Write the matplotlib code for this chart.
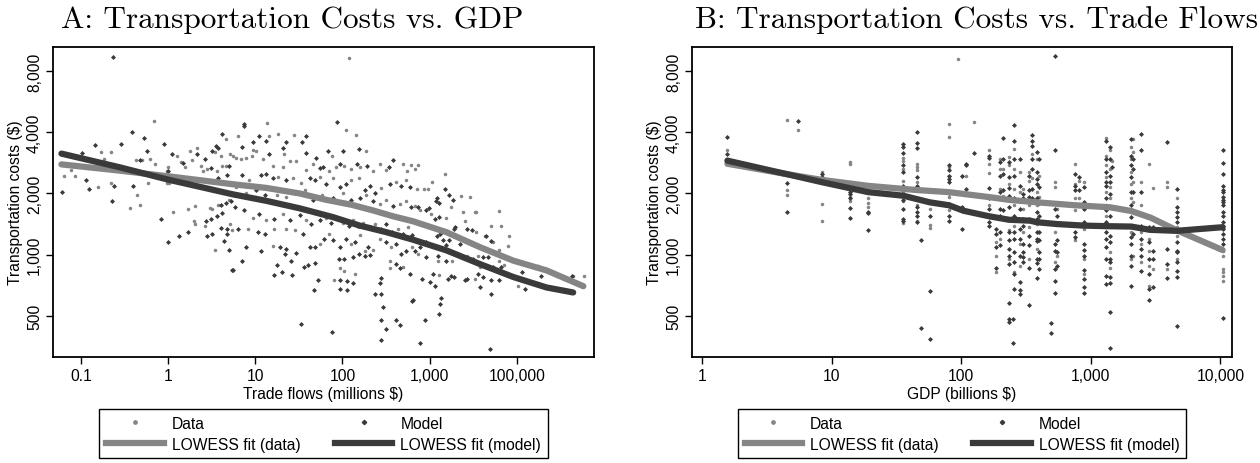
import matplotlib.pyplot as plt
from matplotlib.lines import Line2D
from matplotlib.ticker import NullLocator

plt.rcParams['font.family'] = ['Liberation Sans', 'DejaVu Sans']

# Panel A: transportation cost ($) vs trade flows (millions $)
trade_data = [
    (0.69, 4550), (0.172, 3190), (0.224, 3190), (0.186, 2970), (0.43, 2910), (0.50, 2910),
    (0.62, 2960), (0.71, 2780), (1.26, 3050), (1.40, 2870), (1.58, 2690), (1.0, 2700),
    (0.98, 2590), (0.97, 2250), (1.8, 3240), (2.13, 3360), (1.9, 2910), (4.67, 3700),
    (3.49, 3190), (4.1, 3050), (5.2, 3110), (2.4, 2720), (2.83, 2650), (2.55, 2590),
    (3.66, 2590), (4.17, 2720), (4.6, 2720), (0.064, 2450), (0.077, 2600), (0.085, 2440),
    (0.158, 2150), (0.224, 2250), (0.585, 2250), (0.445, 1960), (0.48, 1760), (0.37, 1690),
    (1.02, 2250), (1.15, 1630), (1.68, 1680), (2.06, 1740), (1.99, 1470), (2.03, 1410),
    (2.66, 1390), (3.0, 1700), (3.2, 1670), (3.7, 1750), (5.0, 1850), (5.4, 1320),
    (5.2, 1410), (3.43, 1050),
    (118, 9230), (110, 4110), (145, 3860), (13.5, 4450), (6.4, 3820), (14.5, 3850),
    (18.5, 3900), (27.5, 3880), (9.4, 3290), (10.3, 3240), (21.4, 3110), (75, 3050),
    (188, 3220), (5.6, 3050), (6.1, 2980), (6.9, 2950), (7.9, 2980), (9.3, 3050),
    (12.3, 2950), (16, 2740), (20.8, 2700), (25, 2880), (29.5, 2880), (38.6, 2610),
    (46, 2800), (71, 2590), (84, 2700), (105, 2740), (124, 2630), (158, 2700),
    (222, 2570), (268, 2790), (315, 2620), (500, 2790), (550, 2580), (610, 2760),
    (8.5, 2320), (18.3, 2410), (27.2, 2390), (33.6, 2250), (56, 2410), (78, 2370),
    (127, 2320), (155, 2390), (280, 2130), (415, 2280), (540, 2320), (6.1, 2150),
    (7.9, 2000), (17.6, 1960), (22.8, 1920), (37, 2080), (59, 1960), (102, 2000),
    (188, 1960), (268, 1780), (320, 1850), (453, 1780), (540, 1840), (9.4, 1520),
    (13.4, 1475), (21, 1590), (38.6, 1475), (65.6, 1520), (102, 1430), (133, 1475),
    (173, 1430), (235, 1420), (435, 1330), (560, 1365), (8.3, 1345), (16.6, 1330),
    (22.8, 1345), (28.4, 1320), (55, 1130), (71, 1265), (127, 1130), (158, 1250),
    (180, 1040), (225, 1050), (268, 1190), (365, 1090), (635, 1090), (15.8, 1100),
    (93, 860), (105, 830), (140, 800), (81, 755), (350, 935), (355, 860), (500, 870),
    (730, 2750), (680, 2650), (1520, 2500), (1060, 2290), (870, 2100), (955, 2110),
    (720, 2110), (2320, 1950), (2940, 1920), (1740, 1715), (2440, 1630), (3280, 1630),
    (3450, 1630), (6230, 1640), (680, 1740), (770, 1650), (1040, 1580), (1560, 1510),
    (2550, 1460), (3400, 1290), (4300, 1240), (5100, 1380), (6650, 1380), (5360, 1160),
    (8200, 1230), (8000, 1100), (6300, 1050), (740, 1010), (1240, 935), (1830, 935),
    (2650, 990), (3600, 990), (6300, 935), (7070, 885), (3760, 870), (3340, 760),
    (1270, 795), (10400, 700), (17700, 880), (59000, 785), (44000, 790),
]
trade_model = [
    (0.234, 9400), (0.383, 4000), (0.53, 3740), (0.144, 3480), (0.29, 3500), (0.89, 3500),
    (0.104, 3150), (0.57, 3240), (0.48, 2910), (1.12, 3140), (1.49, 2830), (1.0, 2590),
    (2.13, 3140), (2.63, 2970), (3.17, 3230), (3.59, 3440), (3.74, 3350), (4.17, 3940),
    (3.1, 2660), (5.0, 2720), (4.75, 2470), (3.7, 2380), (0.114, 2320), (0.124, 2100),
    (0.061, 2030), (0.24, 2170), (0.40, 2180), (0.23, 1830), (0.84, 1500), (1.0, 1160),
    (1.34, 1240), (1.7, 1300), (2.75, 1460), (3.1, 1500), (3.6, 1550), (4.2, 1600),
    (4.1, 1750), (4.6, 1800), (5.3, 1830), (2.8, 1230), (3.2, 1270), (4.1, 1350),
    (4.7, 1330), (4.7, 1265), (4.35, 1170), (5.0, 1060), (5.4, 840),
    (86, 4500), (7.5, 4400), (7.5, 4300), (9.5, 3600), (11.2, 3820), (13.4, 3620),
    (22.4, 3600), (34, 3600), (38.6, 3820), (7.0, 3380), (14.5, 3140), (20.8, 3330),
    (38, 3150), (50, 3000), (69, 3220), (102, 3250), (155, 3300), (56, 2660), (60, 2700),
    (94, 2800), (147, 2800), (190, 2720), (340, 2700), (380, 2930), (7.1, 2470),
    (11.7, 2470), (13.4, 2500), (15.8, 2390), (22.8, 2320), (42, 2370), (48, 2320),
    (65.6, 2230), (93, 2150), (111, 2230), (180, 2080), (205, 2170), (235, 2000),
    (350, 2230), (470, 2170), (590, 2150), (10.3, 2080), (12.8, 1960), (28.4, 2000),
    (46, 1850), (78, 1890), (127, 1850), (158, 1890), (225, 1840), (380, 1730),
    (615, 1720), (5.8, 1715), (7.5, 1650), (11.2, 1590), (16.6, 1500), (25, 1475),
    (32.4, 1560), (44, 1420), (55, 1480), (74, 1430), (84, 1520), (118, 1390),
    (152, 1390), (205, 1365), (280, 1345), (320, 1410), (375, 1290), (500, 1260),
    (635, 1250), (6.4, 1330), (10.8, 1290), (13, 1265), (35.5, 1265), (42, 1090),
    (48, 1090), (62, 1190), (78, 1175), (93, 1090), (111, 1190), (140, 1160), (196, 1090),
    (320, 1160), (415, 1130), (475, 1010), (540, 1040), (19.1, 1090), (21.7, 1010),
    (22.8, 1070), (7.9, 1090), (7.1, 935), (11.7, 1040), (29.6, 1020), (26, 935),
    (36.3, 870), (40.5, 885), (48, 910), (26.5, 795), (17.6, 885), (16.4, 795),
    (20.5, 820), (91, 950), (105, 955), (133, 970), (155, 1010), (180, 990), (210, 1000),
    (53, 755), (93, 747), (113, 740), (133, 725), (47, 670), (94, 675), (113, 670),
    (275, 765), (268, 725), (415, 900), (453, 860), (590, 805), (235, 640), (275, 640),
    (295, 555), (275, 480), (410, 475), (453, 450), (320, 430), (275, 380), (630, 590),
    (33.6, 455), (76, 415), (5.6, 840),
    (1520, 2110), (1690, 1960), (1860, 1850), (1220, 1890), (1270, 1790), (1180, 1840),
    (980, 1700), (900, 1650), (740, 1710), (1290, 1540), (1140, 1500), (1970, 1365),
    (1890, 1340), (2650, 1340), (3100, 1320), (4490, 1240), (5040, 1170), (1310, 1265),
    (1430, 1175), (1560, 1110), (1690, 1175), (2220, 1130), (1200, 1230), (920, 1160),
    (770, 1090), (680, 1040), (920, 970), (1250, 990), (1560, 930), (2130, 1010),
    (3160, 950), (4130, 970), (4650, 975), (6650, 870), (5360, 870), (3600, 805),
    (4130, 775), (2650, 760), (2550, 755), (1930, 780), (1760, 790), (1100, 800),
    (810, 760), (1000, 730), (1160, 700), (1630, 760), (5040, 747), (6300, 747),
    (3760, 690), (5000, 640), (12300, 680), (11600, 820), (18900, 785), (42500, 785),
    (1360, 615), (1310, 570), (1270, 510), (880, 475), (770, 370), (4900, 345), (645, 596),
]
trade_lowess_data_x = [0.060, 0.279, 1.0, 5.56, 13.4, 32.4, 65.6, 127, 225, 380, 645,
                       1560, 3760, 9100, 21900, 58000]
trade_lowess_data_y = [2780, 2590, 2430, 2220, 2130, 2000, 1860, 1760, 1650, 1545, 1460,
                       1290, 1090, 935, 837, 700]
trade_lowess_model_x = [0.060, 0.279, 1.0, 5.56, 13.4, 32.4, 78, 158, 320, 645, 1560,
                        3760, 9100, 21900, 44300]
trade_lowess_model_y = [3140, 2690, 2340, 1980, 1840, 1690, 1530, 1390, 1290, 1185, 1050,
                        900, 777, 690, 652]

# Panel B: transportation cost ($) vs GDP (billions $), points stack at each country's GDP
gdp_levels = [1.57, 4.5, 5.5, 8.5, 13.8, 19.2, 35.7, 45.3, 49, 57, 80.5, 94, 101, 109, 126,
              164, 186, 199, 210, 234, 250, 257, 284, 302, 336, 350, 382, 401, 490, 530,
              546, 755, 811, 887, 1300, 1410, 1450, 2050, 2130, 2430, 2830, 3000, 3890,
              4590, 10400]
gdp_data_costs = [
    [3290, 2950, 2880], [4570, 2070, 1970], [4110], [2560, 1770, 1470],
    [2850, 2800, 1920, 1840], [1890, 1790, 1720],
    [2990, 2900, 2640, 2300, 2030, 1840, 1430], [2780, 2690, 2620, 2270, 1890, 1750, 1470],
    [], [1670, 1400, 1350], [4400, 3780, 2700, 2450, 1920, 1650], [9200], [2450], [2450],
    [4490], [3270, 2780, 2530, 1750, 1530], [1150, 990, 820], [2960, 2640, 2100, 1890, 1200],
    [2640, 1950], [3010, 2750, 2230, 1890, 1320, 950], [],
    [3310, 2640, 2100, 1750, 1390, 820], [880, 1130, 1500, 2030, 2550], [2100, 1680, 1290],
    [2550, 2300, 1750, 1365, 950], [3130, 2370], [2960, 2030, 1750, 1420, 1065],
    [2450, 1920], [], [2270, 2150, 1290, 916], [1680, 990], [2780, 2230, 1890, 1650, 1175],
    [2300, 1890], [2270, 1340, 950, 805], [3760, 3070, 2750, 2410, 2030, 1750, 1555, 1365],
    [3270, 2640, 2150, 1890, 1390, 1030, 860], [2900],
    [3380, 2960, 2550, 2230, 1890, 1650, 1290, 950], [3700, 3200, 2270, 1810, 990],
    [2270, 1750, 1290, 1130, 916], [2800, 1200, 1045, 880, 705], [2120, 850],
    [2270, 2150, 850], [1890, 1365, 1240, 950], [1045, 990, 850, 820, 790, 740],
]
gdp_model_costs = [
    [3780, 3130, 2900], [2250, 1630], [4520], [2500, 2410], [2040, 1990, 1890, 1700, 1520],
    [2180, 1630, 1600, 1320], [3500, 3380, 3170, 2750, 2550, 2170, 1860, 1680, 1500, 1460],
    [4000, 3540, 3330, 2410, 2180, 1720, 1630, 1545, 1440], [1175, 435], [1545, 665, 385],
    [2750, 2600, 2450, 2350, 2270, 2000, 1780, 1555, 1460], [], [2440, 1720, 1330],
    [2800, 2750, 2100], [3170], [3070, 2980, 2120, 1890, 1680, 1455, 1390],
    [1340, 1265, 1085, 860], [2850, 2450, 2030, 1680, 1555, 1290, 1110],
    [3750, 2960, 2500, 2070, 1650],
    [2850, 2410, 2120, 1950, 1720, 1500, 1290, 1175, 1065, 990, 900, 580, 482, 465],
    [370, 482], [4320, 3640, 2960, 2450, 1890, 1555, 1290, 1200, 1030, 916, 805, 680],
    [730, 670, 640, 990, 1200, 1340, 1680, 2180, 2960],
    [1990, 1890, 1500, 1390, 1130, 1030, 970, 916],
    [2450, 2070, 1920, 1500, 1240, 1110, 860, 565], [3860, 3640, 3420, 2960, 2640, 2100, 1890],
    [3200, 2550, 2350, 2230, 1890, 1620, 1500, 1290, 1200, 1165, 950, 910, 770],
    [2960, 2150, 1790, 1555, 1290, 1175, 1035, 950, 850], [460, 410],
    [9520, 3270, 1680, 1130, 1045, 850, 740, 645], [1555, 1175, 1035, 880],
    [2500, 2180, 2070, 1750, 1415, 1290, 1220], [2410, 2070],
    [2150, 1810, 1680, 1440, 1130, 1060, 990, 845, 760, 690, 645],
    [3640, 2960, 2550, 2270, 2180, 1890, 1650, 1440, 1290, 1200, 1085, 950, 790, 720],
    [3380, 2960, 2450, 2270, 1990, 1720, 1555, 1240, 1150, 950, 916, 775, 725, 520, 349],
    [2710], [3700, 3070, 2750, 2410, 2030, 1750, 1530, 1390, 1220, 1130, 990, 880, 705],
    [2960, 2640, 2030, 1620, 1265], [3920, 3290, 2030, 1580, 1390, 1200, 1065, 990, 835],
    [1365, 1150, 950, 800, 680, 600], [1365, 1045, 950, 690], [3600, 1065, 900, 765],
    [2100, 1720, 1620, 1530, 1440, 1310, 1150, 1045, 1030, 916, 835, 775, 447],
    [3290, 2830, 2500, 2180, 2070, 2030, 1920, 1860, 1810, 1750, 1620, 1555, 1440, 1390,
     1340, 1265, 1200, 1130, 490],
]
gdp_lowess_data_x = [1.57, 4.5, 8.5, 19.2, 45, 80.5, 164, 234, 382, 755, 1410, 2050, 2900,
                     4590, 10400]
gdp_lowess_data_y = [2800, 2490, 2330, 2180, 2080, 2030, 1920, 1860, 1810, 1750, 1710, 1640,
                     1520, 1320, 1054]
gdp_lowess_model_x = [1.57, 4.5, 8.5, 19.2, 35.7, 57, 80.5, 104, 164, 234, 340, 382, 546,
                      876, 1410, 2050, 2860, 4590, 10400]
gdp_lowess_model_y = [2900, 2490, 2270, 2030, 1950, 1810, 1750, 1645, 1545, 1485, 1470, 1445,
                      1415, 1390, 1380, 1375, 1325, 1310, 1365]

cost_ticks = [500, 1000, 2000, 4000, 8000]
cost_labels = ['500', '1,000', '2,000', '4,000', '8,000']

DATA_C = '#858585'
MODEL_C = '#3a3a3a'
FS = 11.25

fig = plt.figure(figsize=(12.6, 4.64), dpi=100)
W, H = 1260, 464
axA = fig.add_axes([53 / W, 106 / H, 541 / W, 310 / H])
axB = fig.add_axes([692 / W, 106 / H, 540 / W, 310 / H])


def style(ax, xlim, xticks, xlabels, xlabel):
    ax.set_xscale('log')
    ax.set_yscale('log')
    ax.set_xlim(xlim)
    ax.set_ylim(314, 10500)
    ax.set_xticks(xticks, xlabels)
    ax.set_yticks(cost_ticks, cost_labels, rotation=90, va='center')
    ax.xaxis.set_minor_locator(NullLocator())
    ax.yaxis.set_minor_locator(NullLocator())
    ax.tick_params(direction='out', length=5, width=1, labelsize=FS, pad=3)
    ax.set_xlabel(xlabel, fontsize=FS, labelpad=2)
    ax.set_ylabel('Transportation costs ($)', fontsize=FS, labelpad=3)
    for s in ax.spines.values():
        s.set_linewidth(1.3)
    handles = [
        Line2D([], [], ls='none', marker='o', ms=2.4, color=DATA_C),
        Line2D([], [], color=DATA_C, lw=4.5),
        Line2D([], [], ls='none', marker='D', ms=2.2, color=MODEL_C),
        Line2D([], [], color=MODEL_C, lw=4.5),
    ]
    labels = ['Data', 'LOWESS fit (data)', 'Model', 'LOWESS fit (model)']
    leg = ax.legend(handles, labels, ncol=2, loc='upper center', bbox_to_anchor=(0.5, -0.168),
                    borderaxespad=0, fancybox=False, edgecolor='black', framealpha=1,
                    fontsize=FS, handlelength=3.7, columnspacing=2.2, handletextpad=0.5,
                    borderpad=0.42, labelspacing=0.4)
    leg.get_frame().set_linewidth(1.0)


# panel A
axA.scatter([p[0] for p in trade_data], [p[1] for p in trade_data], s=6.5, color=DATA_C,
            linewidths=0, zorder=2)
axA.scatter([p[0] for p in trade_model], [p[1] for p in trade_model], s=6.5, marker='D',
            color=MODEL_C, linewidths=0, zorder=2)
axA.plot(trade_lowess_data_x, trade_lowess_data_y, color=DATA_C, lw=4.5,
         solid_capstyle='round', zorder=3)
axA.plot(trade_lowess_model_x, trade_lowess_model_y, color=MODEL_C, lw=4.5,
         solid_capstyle='round', zorder=4)
style(axA, (0.048, 76800), [0.1, 1, 10, 100, 1000, 10000],
      ['0.1', '1', '10', '100', '1,000', '100,000'], 'Trade flows (millions $)')

# panel B
bx_d = [g for g, cs in zip(gdp_levels, gdp_data_costs) for _ in cs]
by_d = [c for cs in gdp_data_costs for c in cs]
bx_m = [g for g, cs in zip(gdp_levels, gdp_model_costs) for _ in cs]
by_m = [c for cs in gdp_model_costs for c in cs]
axB.scatter(bx_d, by_d, s=6.5, color=DATA_C, linewidths=0, zorder=2)
axB.scatter(bx_m, by_m, s=6.5, marker='D', color=MODEL_C, linewidths=0, zorder=2)
axB.plot(gdp_lowess_data_x, gdp_lowess_data_y, color=DATA_C, lw=4.5,
         solid_capstyle='round', zorder=3)
axB.plot(gdp_lowess_model_x, gdp_lowess_model_y, color=MODEL_C, lw=4.5,
         solid_capstyle='round', zorder=4)
style(axB, (0.837, 12300), [1, 10, 100, 1000, 10000],
      ['1', '10', '100', '1,000', '10,000'], 'GDP (billions $)')

fig.text(292 / W, 1 - 20 / H, 'A: Transportation Costs vs. GDP', ha='center', va='center',
         fontsize=22.5, fontfamily='cmr10')
fig.text(977 / W, 1 - 20 / H, 'B: Transportation Costs vs. Trade Flows', ha='center',
         va='center', fontsize=22.5, fontfamily='cmr10')

fig.savefig('out.png', dpi=100)
